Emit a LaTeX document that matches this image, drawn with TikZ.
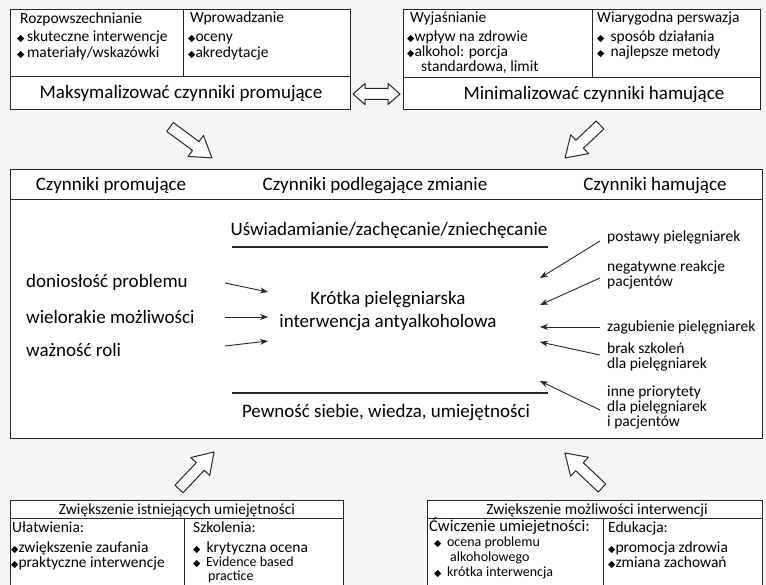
\documentclass[tikz,border=0pt]{standalone}
\usepackage{fontspec}
\setmainfont{Carlito}
\newfontfamily\dejavu{DejaVu Sans}
\newcommand\bul{{\dejavu\fontsize{9.5}{9.5}\selectfont ◆}}
\usetikzlibrary{arrows.meta}
\tikzset{
  box/.style={draw=black!85, line width=1pt},
  big/.style={font=\fontsize{19}{22}\selectfont, inner sep=0pt},
  med/.style={font=\fontsize{19}{22}\selectfont, inner sep=0pt},
  sm/.style={font=\fontsize{15.5}{16}\selectfont, inner sep=0pt},
  tiny/.style={font=\fontsize{14}{14}\selectfont, inner sep=0pt},
  xs/.style={font=\fontsize{15.5}{15}\selectfont, inner sep=0pt},
  hollow/.style={draw=black!85, line width=1pt, fill=white, line join=round},
  conn/.style={draw=black!85, line width=0.9pt, -{Stealth[length=8pt,width=6pt]}},
}
\newcommand\harrow[3]{%
  \begin{scope}[shift={#1}, rotate=#2, x=1pt, y=1pt]
    \draw[hollow] (0,5.5) -- (#3-20,5.5) -- (#3-20,13) -- (#3,0) -- (#3-20,-13) -- (#3-20,-5.5) -- (0,-5.5) -- cycle;
  \end{scope}}
\begin{document}
\begin{tikzpicture}[x=1pt,y=-1pt]
\useasboundingbox (0,0) rectangle (766,585);
\fill[white!96!black] (0,0) rectangle (766,585);

% ---------- top left box
\draw[box, fill=white] (10,10) rectangle (350,110);
\draw[box] (10,77) -- (350,77);
\draw[box] (183,10) -- (183,77);
\node[sm, anchor=base west] (tl1) at (20,24) {Rozpowszechnianie};
\node[sm, anchor=base west] (tl2) at (17,42) {\bul\,skuteczne interwencje};
\node[sm, anchor=base west] (tl3) at (17,58) {\bul\,materiały/wskazówki};
\node[sm, anchor=base west] (tl4) at (190,23) {Wprowadzanie};
\node[sm, anchor=base west] (tl5) at (188,42) {\bul oceny};
\node[sm, anchor=base west] (tl6) at (188,58) {\bul akredytacje};
\node[big] (maks) at (181,94) {Maksymalizować czynniki promujące};

% ---------- top right box
\draw[box, fill=white] (403,10) rectangle (760,110);
\draw[box] (403,78) -- (760,78);
\draw[box] (592,10) -- (592,78);
\node[sm, anchor=base west] (tr1) at (410,23) {Wyjaśnianie};
\node[sm, anchor=base west] (tr2) at (407,42) {\bul wpływ na zdrowie};
\node[sm, anchor=base west] (tr3) at (407,57) {\bul alkohol: porcja};
\node[sm, anchor=base west] (tr4) at (421,72) {standardowa, limit};
\node[sm, anchor=base west] (tr5) at (597,23) {Wiarygodna perswazja};
\node[sm, anchor=base west] (tr6) at (597,42) {\bul\, sposób działania};
\node[sm, anchor=base west] (tr7) at (597,57) {\bul\, najlepsze metody};
\node[big] (mini) at (594,95) {Minimalizować czynniki hamujące};

% double arrow
\draw[hollow] (353,94) -- (365,83.5) -- (365,88.5) -- (388,88.5) -- (388,83.5) -- (400,94)
  -- (388,104.5) -- (388,99.5) -- (365,99.5) -- (365,104.5) -- cycle;

% hollow arrows
\harrow{(170,127)}{-36.4}{52}
\harrow{(600,125)}{-136.7}{48}
\harrow{(179,489)}{46.6}{51}
\harrow{(602,488)}{136.6}{51}

% ---------- main box
\draw[box, fill=white] (10,170) rectangle (762,438);
\draw[box] (10,200) -- (762,200);
\node[med] (h1) at (111,186) {Czynniki promujące};
\node[med] (h2) at (375,186) {Czynniki podlegające zmianie};
\node[med] (h3) at (655,186) {Czynniki hamujące};

\node[med] (usw) at (389,230) {Uświadamianie/zachęcanie/zniechęcanie};
\coordinate (ul1) at (232,247); \coordinate (ul2) at (548,247);
\draw[box, line width=1.2pt] (ul1) -- (ul2);
\coordinate (ll1) at (232,393); \coordinate (ll2) at (548,393);
\draw[box, line width=1.2pt] (ll1) -- (ll2);
\node[med] (pew) at (386,413) {Pewność siebie, wiedza, umiejętności};

\node[med, anchor=west] (l1) at (26,282) {doniosłość problemu};
\node[med, anchor=west] (l2) at (26,317) {wielorakie możliwości};
\node[med, anchor=west] (l3) at (26,350) {ważność roli};

\node[med, align=center, font=\fontsize{19}{23}\selectfont] (kr) at (388,311) {Krótka pielęgniarska\\interwencja antyalkoholowa};

\coordinate (la1) at (225,283); \coordinate (lb1) at (268,292);
\coordinate (la2) at (225,317); \coordinate (lb2) at (268,317);
\coordinate (la3) at (225,346); \coordinate (lb3) at (268,341);
\draw[conn] (la1) -- (lb1);
\draw[conn] (la2) -- (lb2);
\draw[conn] (la3) -- (lb3);

\node[xs, anchor=west] (r1) at (607,237) {postawy pielęgniarek};
\node[xs, anchor=west, align=left] (r2) at (607,275) {negatywne reakcje\\pacjentów};
\node[xs, anchor=west] (r3) at (607,327) {zagubienie pielęgniarek};
\node[xs, anchor=west, align=left] (r4) at (607,357) {brak szkoleń\\dla pielęgniarek};
\node[xs, anchor=west, align=left] (r5) at (607,407) {inne priorytety\\dla pielęgniarek\\i pacjentów};

\coordinate (ra1) at (600,241); \coordinate (rb1) at (540,278);
\coordinate (ra2) at (600,278); \coordinate (rb2) at (540,305);
\coordinate (ra3) at (600,327); \coordinate (rb3) at (540,327);
\coordinate (ra4) at (600,355); \coordinate (rb4) at (540,342);
\coordinate (ra5) at (600,410); \coordinate (rb5) at (540,381);
\draw[conn] (ra1) -- (rb1);
\draw[conn] (ra2) -- (rb2);
\draw[conn] (ra3) -- (rb3);
\draw[conn] (ra4) -- (rb4);
\draw[conn] (ra5) -- (rb5);

% ---------- bottom left box
\draw[box, fill=white] (10,500) rectangle (343,600);
\draw[box] (10,518) -- (343,518);
\draw[box] (184,518) -- (184,600);
\node[sm] (bl0) at (177,510) {Zwiększenie istniejących umiejętności};
\node[sm, anchor=base west] (bl1) at (12,532) {Ułatwienia:};
\node[sm, anchor=base west] (bl2) at (11,552) {\bul zwiększenie zaufania};
\node[sm, anchor=base west] (bl3) at (11,567) {\bul praktyczne interwencje};
\node[sm, anchor=base west] (bl4) at (193,532) {Szkolenia:};
\node[sm, anchor=base west] (bl5) at (193,552) {\bul\, krytyczna ocena};
\node[tiny, anchor=base west] (bl6) at (193,566) {\bul\, Evidence based};
\node[tiny, anchor=base west] (bl7) at (208,580) {practice};

% ---------- bottom right box
\draw[box, fill=white] (427,500) rectangle (762,600);
\draw[box] (427,518) -- (762,518);
\draw[box] (603,518) -- (603,600);
\node[sm] (br0) at (597,510) {Zwiększenie możliwości interwencji};
\node[sm, anchor=base west, font=\fontsize{16.5}{17}\selectfont] (br1) at (429,531) {Ćwiczenie umiejetności:};
\node[tiny, anchor=base west] (br2) at (434,546) {\bul\, ocena problemu};
\node[tiny, anchor=base west] (br3) at (450,561) {alkoholowego};
\node[tiny, anchor=base west] (br4) at (434,576) {\bul\, krótka interwencja};
\node[sm, anchor=base west] (br5) at (608,532) {Edukacja:};
\node[sm, anchor=base west] (br6) at (608,552) {\bul promocja zdrowia};
\node[sm, anchor=base west] (br7) at (608,567) {\bul zmiana zachowań};
\end{tikzpicture}
\end{document}
